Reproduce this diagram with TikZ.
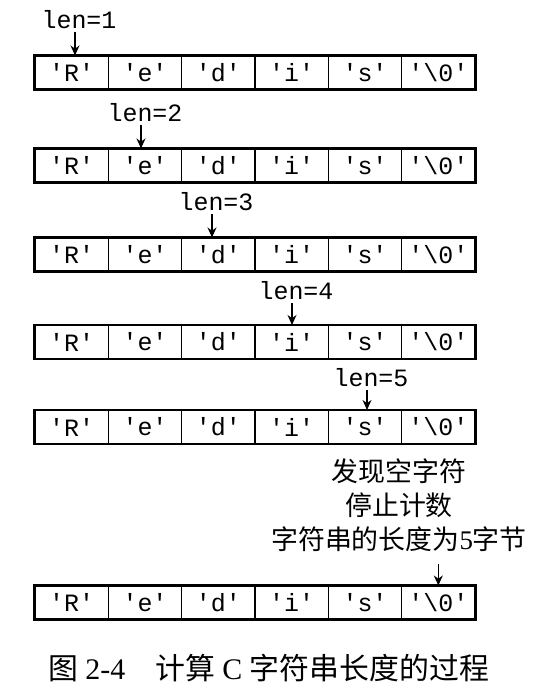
\documentclass[tikz,border=0pt]{standalone}
\usepackage{fontspec}
\setmainfont{Liberation Serif}
\setmonofont{Liberation Mono}
\newfontfamily\cjk{Noto Sans CJK SC}
\usetikzlibrary{arrows.meta,positioning}

\tikzset{
  cell/.style={draw,line width=1.1bp,minimum width=73.33bp,minimum height=33bp,inner sep=0pt,
    font=\fontsize{25}{30}\selectfont\ttfamily},
  frame/.style={line width=2bp},
  lenlab/.style={inner sep=0pt,font=\fontsize{25}{30}\selectfont\ttfamily},
  ptr/.style={-{Stealth[length=10bp,width=9bp]},line width=1.1bp},
  msg/.style={inner sep=0pt,align=center,font=\fontsize{27}{34}\selectfont\cjk},
}

\begin{document}
\begin{tikzpicture}[x=1bp,y=-1bp]
\useasboundingbox (0,0) rectangle (546,699);
% one row for every step of the count
\foreach \r/\y in {1/72.5,2/165.5,3/254.5,4/342,5/427,6/602.5}{
  \foreach \ch [count=\i] in {R,e,d,i,s,\textbackslash0}
    \node[cell] (c\r\i) at ({35+73.33*(\i-0.5)},\y) {'\ch'};
  \draw[frame] (c\r1.north west) rectangle (c\r6.south east);
}
% counter above the current cell
\foreach \r/\ax/\ly in {1/75/20,2/141/113,3/212/202,4/292/291,5/367/378}{
  \node[lenlab] (len\r) at (\ax+4,\ly) {len=\r};
  \draw[ptr] ([xshift=-4bp,yshift=-3bp]len\r.south) -- ([xshift=-4bp]len\r.south |- c\r\r.north);
}
\node[msg] (stop) at (399,505) {发现空字符\\停止计数\\字符串的长度为{\rmfamily 5}字节};
\draw[ptr] ([yshift=-12bp]stop.south -| c66.north) -- (c66.north);
\node[inner sep=0pt,font=\fontsize{30}{36}\selectfont] (cap) at (268.5,668)
  {{\cjk 图} 2-4\hspace{1em}{\cjk 计算} C {\cjk 字符串长度的过程}};
\end{tikzpicture}
\end{document}
